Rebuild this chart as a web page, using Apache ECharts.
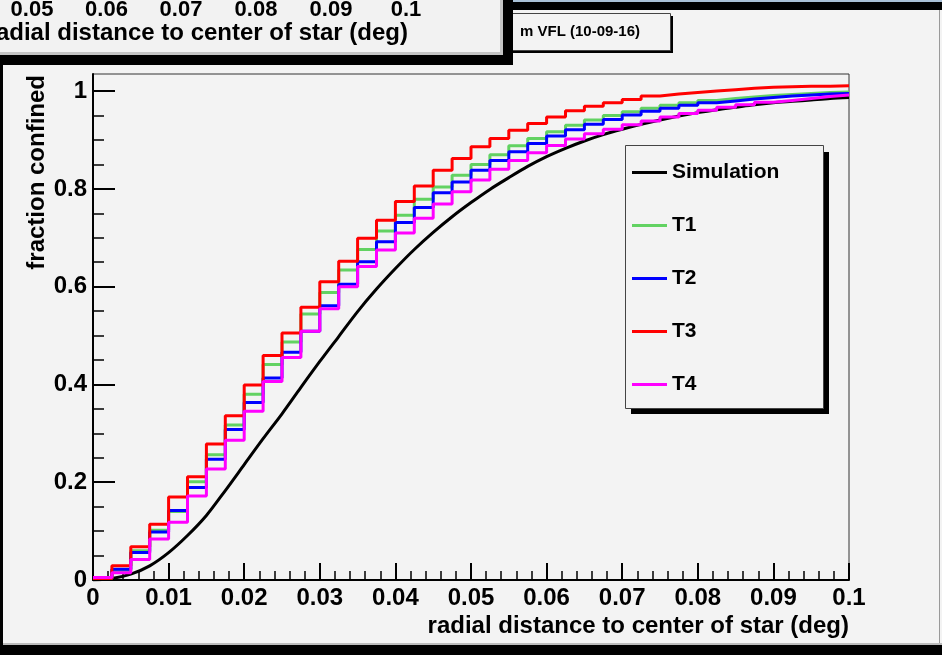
<!DOCTYPE html>
<html>
<head>
<meta charset="utf-8">
<script src="https://cdn.jsdelivr.net/npm/echarts@6/dist/echarts.min.js"></script>
<style>
html, body { margin: 0; padding: 0; background: #f3f3f3; }
#chart { width: 942px; height: 655px; }
</style>
</head>
<body>
<div id="chart"></div>
<script>
// 40 bins of 0.0025 deg, from 0 to 0.1
var binWidth = 0.0025;

var t1 = [0.003, 0.019, 0.060, 0.102, 0.140, 0.201, 0.256, 0.317, 0.380, 0.441,
          0.487, 0.544, 0.588, 0.634, 0.676, 0.714, 0.746, 0.779, 0.804, 0.828,
          0.850, 0.870, 0.888, 0.903, 0.917, 0.930, 0.941, 0.950, 0.958, 0.965,
          0.971, 0.976, 0.981, 0.985, 0.988, 0.991, 0.993, 0.995, 0.997, 0.998];
var t2 = [0.003, 0.022, 0.056, 0.098, 0.142, 0.189, 0.247, 0.308, 0.363, 0.413,
          0.466, 0.509, 0.561, 0.605, 0.651, 0.692, 0.731, 0.762, 0.792, 0.814,
          0.838, 0.858, 0.876, 0.893, 0.908, 0.921, 0.932, 0.942, 0.951, 0.959,
          0.965, 0.971, 0.976, 0.980, 0.984, 0.987, 0.990, 0.992, 0.994, 0.995];
var t3 = [0.003, 0.029, 0.068, 0.114, 0.170, 0.211, 0.278, 0.336, 0.399, 0.459,
          0.505, 0.558, 0.610, 0.652, 0.699, 0.736, 0.774, 0.806, 0.838, 0.862,
          0.886, 0.903, 0.920, 0.934, 0.947, 0.960, 0.969, 0.976, 0.983, 0.990,
          0.994, 0.997, 1.000, 1.003, 1.006, 1.008, 1.009, 1.010, 1.010, 1.011];
var t4 = [0.005, 0.015, 0.042, 0.084, 0.118, 0.172, 0.227, 0.286, 0.345, 0.406,
          0.455, 0.509, 0.555, 0.600, 0.641, 0.675, 0.710, 0.740, 0.769, 0.794,
          0.818, 0.840, 0.858, 0.874, 0.889, 0.902, 0.913, 0.922, 0.931, 0.939,
          0.947, 0.954, 0.961, 0.967, 0.972, 0.977, 0.981, 0.985, 0.989, 0.992];

// simulation curve, read every 0.0025 deg
var simY = [0, 0.003, 0.012, 0.029, 0.056, 0.091, 0.132, 0.183, 0.236, 0.289,
            0.340, 0.394, 0.447, 0.498, 0.549, 0.595, 0.637, 0.676, 0.711, 0.743,
            0.772, 0.799, 0.823, 0.846, 0.866, 0.883, 0.898, 0.911, 0.922, 0.932,
            0.941, 0.949, 0.956, 0.962, 0.967, 0.972, 0.976, 0.979, 0.982, 0.985, 0.987];

var yTicks = [0, 0.2, 0.4, 0.6, 0.8, 1];
var yMinor = [0.05, 0.1, 0.15, 0.25, 0.3, 0.35, 0.45, 0.5, 0.55, 0.65, 0.7, 0.75, 0.85, 0.9, 0.95];
var backTicks = ['0.05', '0.06', '0.07', '0.08', '0.09', '0.1'];
var backTickX = [32, 106.5, 181, 256, 331, 406];

var names = ['Simulation', 'T1', 'T2', 'T3', 'T4'];
var colors = ['#000000', '#62d262', '#0000ff', '#ff0000', '#ff00ff'];

var FONT = '"Liberation Sans", Arial, Helvetica, sans-serif';

function histo(vals) {
    var pts = [];
    for (var i = 0; i < vals.length; i++) {
        pts.push([+(i * binWidth).toFixed(4), vals[i]]);
    }
    pts.push([+(vals.length * binWidth).toFixed(4), vals[vals.length - 1]]);
    return pts;
}

function simPoints() {
    var pts = [];
    for (var i = 0; i < simY.length; i++) {
        pts.push([+(i * binWidth).toFixed(4), simY[i]]);
    }
    return pts;
}

function histSeries(name, vals, color) {
    return {
        name: name,
        type: 'line',
        step: 'end',
        symbol: 'none',
        data: histo(vals),
        lineStyle: { color: color, width: 3 },
        itemStyle: { color: color }
    };
}

var myChart = echarts.init(document.getElementById('chart'));

var graphics = [
    // title box (partly hidden behind the other window)
    { type: 'rect', shape: { x: 508, y: 16, width: 165, height: 37 }, style: { fill: '#000' } },
    { type: 'rect', shape: { x: 505.5, y: 13.5, width: 165, height: 37 }, style: { fill: '#f3f3f3', stroke: '#444', lineWidth: 1 } },
    { type: 'text', x: 520, y: 32, style: { text: 'm VFL (10-09-16)', font: 'bold 15px ' + FONT, fill: '#000', textVerticalAlign: 'middle' } },
    // window strips
    { type: 'rect', shape: { x: 0, y: 0, width: 942, height: 2 }, style: { fill: '#a9c0d6' } },
    { type: 'rect', shape: { x: 500, y: 2, width: 442, height: 8 }, style: { fill: '#000' } },
    { type: 'rect', shape: { x: 939, y: 10, width: 1, height: 635 }, style: { fill: '#999' } },
    { type: 'rect', shape: { x: 0, y: 643, width: 942, height: 2 }, style: { fill: '#bbb' } },
    { type: 'rect', shape: { x: 0, y: 645, width: 942, height: 10 }, style: { fill: '#000' } },
    { type: 'rect', shape: { x: 0, y: 62, width: 3, height: 593 }, style: { fill: '#000' } },
    // window in front at the top left
    { type: 'rect', shape: { x: 0, y: 0, width: 503, height: 55 }, style: { fill: '#f2f2f2' } },
    { type: 'rect', shape: { x: 0, y: 52, width: 503, height: 3 }, style: { fill: '#c4c4c4' } },
    { type: 'rect', shape: { x: 500, y: 0, width: 3, height: 55 }, style: { fill: '#c4c4c4' } },
    { type: 'rect', shape: { x: 0, y: 55, width: 513, height: 10 }, style: { fill: '#000' } },
    { type: 'rect', shape: { x: 503, y: 0, width: 10, height: 65 }, style: { fill: '#000' } },
    { type: 'text', x: 408, y: 33, style: { text: 'radial distance to center of star (deg)', font: 'bold 24px ' + FONT, fill: '#000', textAlign: 'right', textVerticalAlign: 'middle' } },
    // legend box
    { type: 'rect', shape: { x: 631, y: 152, width: 198, height: 262 }, style: { fill: '#000' } },
    { type: 'rect', shape: { x: 625.5, y: 145.5, width: 198, height: 263 }, style: { fill: '#f3f3f3', stroke: '#444', lineWidth: 1 } },
    // axis titles
    { type: 'text', x: 849, y: 626, style: { text: 'radial distance to center of star (deg)', font: 'bold 24px ' + FONT, fill: '#000', textAlign: 'right', textVerticalAlign: 'middle' } },
    { type: 'text', x: 37, y: 75, rotation: Math.PI / 2, style: { text: 'fraction confined', font: 'bold 24px ' + FONT, fill: '#000', textAlign: 'right', textVerticalAlign: 'middle' } }
];
for (var k = 0; k < backTicks.length; k++) {
    graphics.push({ type: 'text', x: backTickX[k], y: 10, style: { text: backTicks[k], font: 'bold 22px ' + FONT, fill: '#000', textAlign: 'center', textVerticalAlign: 'middle' } });
}

var option = {
    backgroundColor: '#f3f3f3',
    animation: false,
    textStyle: { fontFamily: FONT },
    grid: {
        left: 93, top: 74, width: 756, height: 506,
        show: true, borderColor: '#333', borderWidth: 1, backgroundColor: 'transparent'
    },
    legend: {
        data: names,
        orient: 'vertical',
        left: 632,
        top: 162,
        icon: 'rect',
        itemWidth: 35,
        itemHeight: 3,
        itemGap: 32,
        padding: 0,
        textStyle: { fontSize: 21, fontWeight: 'bold', color: '#000', fontFamily: FONT, lineHeight: 20 }
    },
    xAxis: {
        type: 'value',
        min: 0,
        max: 0.1,
        interval: 0.01,
        axisLine: { lineStyle: { color: '#000', width: 2 } },
        axisTick: { inside: true, length: 17, lineStyle: { color: '#000', width: 2 } },
        minorTick: { show: true, splitNumber: 5, length: 9, lineStyle: { color: '#000', width: 1.5 } },
        splitLine: { show: false },
        axisLabel: { fontSize: 24, fontWeight: 'bold', color: '#000', margin: 6, fontFamily: FONT }
    },
    yAxis: [
        {
            type: 'value',
            min: 0,
            max: 1.035,
            axisLine: { show: true, lineStyle: { color: '#000', width: 2 } },
            axisTick: { show: true, inside: true, length: 22, customValues: yTicks, lineStyle: { color: '#000', width: 2 } },
            axisLabel: { customValues: yTicks, fontSize: 24, fontWeight: 'bold', color: '#000', margin: 6, fontFamily: FONT },
            splitLine: { show: false }
        },
        {
            type: 'value',
            min: 0,
            max: 1.035,
            position: 'left',
            axisLine: { show: false },
            axisTick: { show: true, inside: true, length: 11, customValues: yMinor, lineStyle: { color: '#000', width: 1.5 } },
            axisLabel: { show: false },
            splitLine: { show: false }
        }
    ],
    graphic: graphics,
    series: [
        {
            name: 'Simulation',
            type: 'line',
            symbol: 'none',
            smooth: 0.3,
            data: simPoints(),
            lineStyle: { color: colors[0], width: 3 },
            itemStyle: { color: colors[0] }
        },
        histSeries('T1', t1, colors[1]),
        histSeries('T2', t2, colors[2]),
        histSeries('T3', t3, colors[3]),
        histSeries('T4', t4, colors[4])
    ]
};

myChart.setOption(option);
</script>
</body>
</html>
